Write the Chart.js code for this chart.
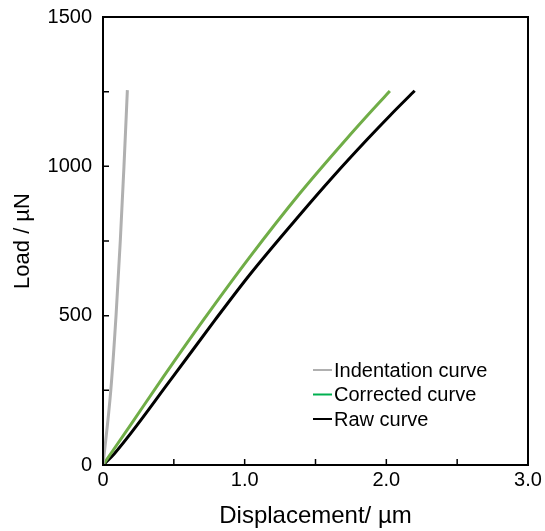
<!DOCTYPE html>
<html>
<head>
<meta charset="utf-8">
<script src="https://cdn.jsdelivr.net/npm/chart.js@4/dist/chart.umd.min.js"></script>
<style>
  html, body { margin: 0; padding: 0; background: #fff; }
  #wrap { width: 545px; height: 531px; }
</style>
</head>
<body>
<div id="wrap"><canvas id="canvas"></canvas></div>
<script>
"use strict"
// dati (spostamento in µm, carico in µN)
const seriesNames = ["Indentation curve", "Corrected curve", "Raw curve"];
const indentX = [0, 0.055, 0.092, 0.122, 0.148, 0.172];
const indentY = [0, 250, 500, 750, 1000, 1255];
const correctedX = [0, 0.2, 0.426, 0.708, 1.037, 1.39, 1.743, 1.9, 2.025];
const correctedY = [0, 138, 295, 485, 697, 910, 1105, 1188, 1252];
const rawX = [0, 0.08, 0.485, 0.79, 1.037, 1.39, 1.625, 1.861, 2.03, 2.20];
const rawY = [0, 38, 290, 485, 638, 838, 966, 1088, 1172, 1253];
const xTicks = [0, 0.5, 1.0, 1.5, 2.0, 2.5, 3.0];
const yTicks = [0, 250, 500, 750, 1000, 1250, 1500];

const lineColors = ["#b0b0b0", "#70ad47", "#000000"];
const legendColors = ["#b0b0b0", "#00b050", "#000000"];
const fontFam = "'Liberation Sans', Arial, sans-serif";

function toPoints(xs, ys) {
    return xs.map((x, i) => ({ x: x, y: ys[i] }));
}

// cornice + tacche interne + legenda dentro il grafico
const framePlugin = {
    id: "frame",
    afterDraw(chart) {
        const ctx = chart.ctx;
        const a = chart.chartArea;
        const sx = chart.scales.x, sy = chart.scales.y;
        ctx.save();
        ctx.strokeStyle = "#000";
        ctx.lineWidth = 2;
        ctx.strokeRect(a.left, a.top, a.right - a.left, a.bottom - a.top);
        ctx.lineWidth = 1.5;
        ctx.beginPath();
        xTicks.forEach(v => {
            const px = sx.getPixelForValue(v);
            ctx.moveTo(px, a.bottom);
            ctx.lineTo(px, a.bottom - 6);
        });
        yTicks.forEach(v => {
            const py = sy.getPixelForValue(v);
            ctx.moveTo(a.left, py);
            ctx.lineTo(a.left + 6, py);
        });
        ctx.stroke();

        ctx.font = "20px " + fontFam;
        ctx.textBaseline = "middle";
        ctx.textAlign = "left";
        const lx = a.left + 210, ly = a.top + 353;
        seriesNames.forEach((name, i) => {
            const y = ly + i * 24.5;
            ctx.strokeStyle = legendColors[i];
            ctx.lineWidth = 2;
            ctx.beginPath();
            ctx.moveTo(lx, y);
            ctx.lineTo(lx + 19, y);
            ctx.stroke();
            ctx.fillStyle = "#000";
            ctx.fillText(name, lx + 21, y + 1);
        });
        ctx.restore();
    }
};

let chartOptions = {
    type: "scatter",
    data: {
        datasets: [
            { label: seriesNames[0], data: toPoints(indentX, indentY) },
            { label: seriesNames[1], data: toPoints(correctedX, correctedY) },
            { label: seriesNames[2], data: toPoints(rawX, rawY) }
        ].map((d, i) => Object.assign(d, {
            showLine: true,
            borderColor: lineColors[i],
            backgroundColor: lineColors[i],
            borderWidth: 3,
            pointRadius: 0,
            cubicInterpolationMode: "monotone"
        }))
    },
    options: {
        responsive: true,
        maintainAspectRatio: false,
        animation: false,
        layout: { padding: { left: 0, right: 17, top: 17, bottom: 0 } },
        plugins: { legend: { display: false }, tooltip: { enabled: false } },
        scales: {
            x: {
                type: "linear",
                min: 0, max: 3,
                afterBuildTicks: s => { s.ticks = xTicks.map(v => ({ value: v })); },
                afterFit: s => { s.height = 66; s.paddingRight = 0; s.paddingLeft = 0; },
                grid: { display: false, drawTicks: false },
                border: { display: false },
                ticks: {
                    color: "#000",
                    padding: 3,
                    maxRotation: 0,
                    font: { family: fontFam, size: 20 },
                    callback: v => (v === 0 ? "0" : (v % 1 === 0 ? v.toFixed(1) : ""))
                },
                title: {
                    display: true,
                    text: "Displacement/ µm",
                    color: "#000",
                    padding: { top: 0, bottom: 0 },
                    font: { family: fontFam, size: 24 }
                }
            },
            y: {
                type: "linear",
                min: 0, max: 1500,
                afterBuildTicks: s => { s.ticks = yTicks.map(v => ({ value: v })); },
                afterFit: s => { s.width = 103; s.paddingTop = 0; s.paddingBottom = 0; },
                grid: { display: false, drawTicks: false },
                border: { display: false },
                ticks: {
                    color: "#000",
                    padding: 11,
                    font: { family: fontFam, size: 20 },
                    callback: v => (v % 500 === 0 ? String(v) : "")
                },
                title: {
                    display: true,
                    text: "Load / µN",
                    color: "#000",
                    padding: { top: 10, bottom: 0 },
                    font: { family: fontFam, size: 22 }
                }
            }
        }
    },
    plugins: [framePlugin]
};

window.addEventListener("load", function () {
    let canvas = document.getElementById("canvas");
    let chart = new Chart(canvas, chartOptions);
});
</script>
</body>
</html>
